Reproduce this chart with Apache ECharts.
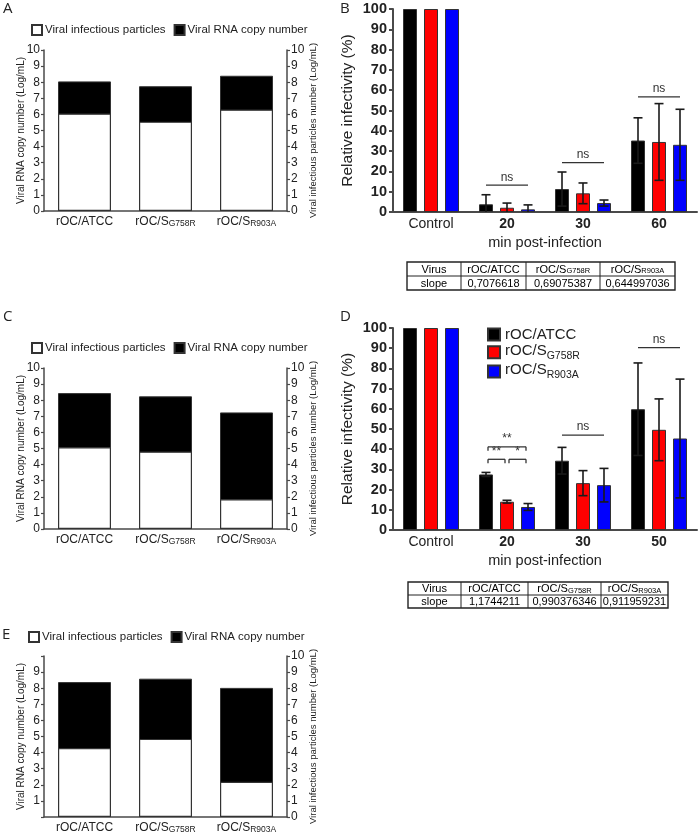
<!DOCTYPE html>
<html><head><meta charset="utf-8">
<script src="https://cdn.jsdelivr.net/npm/echarts@6/dist/echarts.min.js"></script>
<style>html,body{margin:0;padding:0;background:#fff}#c{width:700px;height:834px}</style>
</head><body><div id="c"></div><script>
// ---------- data ----------
const virusCategories = ['rOC/ATCC', 'rOC/SG758R', 'rOC/SR903A'];
const legendNames = ['Viral infectious particles', 'Viral RNA copy number'];
const logTicks = [0, 10, 1];

const panelA_rna = [8.05, 7.75, 8.4];
const panelA_particles = [6.05, 5.55, 6.3];
const panelC_rna = [8.44, 8.24, 7.24];
const panelC_particles = [5.08, 4.81, 1.85];
const panelE_rna = [8.38, 8.59, 8.02];
const panelE_particles = [4.29, 4.85, 2.19];

const B_categories = ['Control', '20', '30', '60'];
const B_atcc = [100, 3.8, 11.3, 35.2];
const B_atcc_sd = [0, 4.7, 8.4, 11.2];
const B_g758r = [100, 2.1, 9.2, 34.5];
const B_g758r_sd = [0, 2.3, 5.1, 18.9];
const B_r903a = [100, 1.3, 4.4, 33.1];
const B_r903a_sd = [0, 2.2, 1.5, 17.5];
// significance: [category index, y value, from series, to series, bracket?]
const B_sig = [[1, 13.2, 0, 2, 0], [2, 24.3, 0, 2, 0], [3, 56.7, 0, 2, 0]];
const B_sigText = ['ns', 'ns', 'ns'];
const B_slopes = ['0,7076618', '0,69075387', '0,644997036'];

const D_categories = ['Control', '20', '30', '50'];
const D_atcc = [100, 27.5, 34.3, 59.8];
const D_atcc_sd = [0, 1.0, 6.6, 22.9];
const D_g758r = [100, 14.0, 23.2, 49.6];
const D_g758r_sd = [0, 0.7, 6.2, 15.3];
const D_r903a = [100, 11.4, 22.2, 45.3];
const D_r903a_sd = [0, 1.7, 8.3, 29.4];
const D_sig = [[1, 41.2, 0, 2, 1], [1, 35.0, 0, 1, 1], [1, 35.0, 1, 2, 1], [2, 47.0, 0, 2, 0], [3, 90.3, 0, 2, 0]];
const D_sigText = ['**', '**', '*', 'ns', 'ns'];
const D_slopes = ['1,1744211', '0,990376346', '0,911959231'];

const pctTicks = [0, 100, 10];
// ---------- styling ----------
const FONT = '"Liberation Sans", Arial, sans-serif';
const AX = '#4a4a4a';
const TXT = '#222';
const BAR_W = 14, BAR_STEP = 21;
const virusColors = ['#000000', '#ff0000', '#0000ff'];

// rich styles: small suffix on the baseline
function virusRich(fs, sfs) {
  const sLH = 0.3 * fs + 0.7 * sfs;
  return {
    n: { fontSize: fs, fontFamily: FONT, color: TXT, lineHeight: fs, verticalAlign: 'bottom' },
    s: { fontSize: sfs, fontFamily: FONT, color: TXT, lineHeight: sLH, verticalAlign: 'bottom' },
    b: { fontSize: fs, fontFamily: FONT, color: TXT, fontWeight: 'bold', lineHeight: fs, verticalAlign: 'bottom' }
  };
}
// rich styles: small suffix lowered (subscript) by drop px
function subRich(fs, sfs, drop) {
  const p = 0.85 * (fs - sfs) + drop;
  return {
    n: { fontSize: fs, fontFamily: FONT, color: TXT, verticalAlign: 'top' },
    s: { fontSize: sfs, fontFamily: FONT, color: TXT, verticalAlign: 'top', padding: [p, 0, 0, 0] }
  };
}
function virusFmt(v) {
  if (v.indexOf('rOC/S') === 0) return '{n|rOC/S}{s|' + v.slice(5) + '}';
  return '{n|' + v + '}';
}

const grids = [
  { left: 44, top: 50, width: 243, height: 161 },   // A
  { left: 393, top: 9, width: 304, height: 203 },   // B
  { left: 44, top: 368, width: 243, height: 161 },  // C
  { left: 393, top: 328, width: 304, height: 202 }, // D
  { left: 44, top: 656, width: 243, height: 163 }   // E
];

function virusXAxis(gi) {
  return {
    type: 'category', gridIndex: gi, data: virusCategories,
    axisLine: { lineStyle: { color: AX, width: 1.5 } }, axisTick: { show: false },
    axisLabel: { interval: 0, margin: 5, formatter: virusFmt, rich: virusRich(12, 8.5) }
  };
}
function timeXAxis(gi, cats) {
  return {
    type: 'category', gridIndex: gi, data: cats,
    axisLine: { lineStyle: { color: AX, width: 2 } }, axisTick: { show: false },
    axisLabel: { interval: 0, margin: 5, formatter: v => v === 'Control' ? '{n|' + v + '}' : '{b|' + v + '}', rich: virusRich(14, 10) },
    name: 'min post-infection', nameLocation: 'middle', nameGap: 23, nameMoveOverlap: false,
    nameTextStyle: { fontSize: 14.5, fontFamily: FONT, color: TXT }
  };
}
function logYAxis(gi, pos, name, hideEnds) {
  return {
    type: 'value', gridIndex: gi, position: pos, min: logTicks[0], max: logTicks[1], interval: logTicks[2],
    splitLine: { show: false },
    axisLine: { show: true, lineStyle: { color: AX, width: 1.5 } },
    axisTick: { show: true, length: 3, lineStyle: { color: AX, width: 1.2 } },
    axisLabel: {
      margin: pos === 'left' ? 4 : 4, fontSize: 12, fontFamily: FONT, color: TXT,
      formatter: v => (hideEnds && (v === 0 || v === 10)) ? '' : String(v)
    },
    name: name, nameLocation: 'middle', nameRotate: 90, nameGap: pos === 'left' ? 18 : 21.5, nameMoveOverlap: false,
    nameTextStyle: { fontSize: pos === 'left' ? 10 : 9.5, fontFamily: FONT, color: TXT }
  };
}
function pctYAxis(gi) {
  return {
    type: 'value', gridIndex: gi, min: pctTicks[0], max: pctTicks[1], interval: pctTicks[2],
    splitLine: { show: false },
    axisLine: { show: true, lineStyle: { color: AX, width: 2 } },
    axisTick: { show: true, length: 4, lineStyle: { color: AX, width: 2 } },
    axisLabel: { margin: 6, fontSize: 14.5, fontWeight: 'bold', fontFamily: FONT, color: TXT },
    name: 'Relative infectivity (%)', nameLocation: 'middle', nameRotate: 90, nameGap: 37, nameMoveOverlap: false,
    nameTextStyle: { fontSize: 15.5, fontFamily: FONT, color: TXT }
  };
}

const xAxis = [virusXAxis(0), timeXAxis(1, B_categories), virusXAxis(2), timeXAxis(3, D_categories), virusXAxis(4)];
const yAxis = [
  logYAxis(0, 'left', 'Viral RNA copy number (Log/mL)', false),
  logYAxis(0, 'right', 'Viral infectious particles number (Log/mL)', false),
  pctYAxis(1),
  logYAxis(2, 'left', 'Viral RNA copy number (Log/mL)', false),
  logYAxis(2, 'right', 'Viral infectious particles number (Log/mL)', false),
  pctYAxis(3),
  logYAxis(4, 'left', 'Viral RNA copy number (Log/mL)', true),
  logYAxis(4, 'right', 'Viral infectious particles number (Log/mL)', false)
];

const series = [];
function stackPanel(xi, yl, yr, rna, particles) {
  series.push({
    type: 'bar', name: legendNames[1], xAxisIndex: xi, yAxisIndex: yl, data: rna,
    barWidth: 53, barGap: '-100%', itemStyle: { color: '#000', borderColor: '#333', borderWidth: 1 }
  });
  series.push({
    type: 'bar', name: legendNames[0], xAxisIndex: xi, yAxisIndex: yr, data: particles,
    barWidth: 53, barGap: '-100%', itemStyle: { color: '#fff', borderColor: '#333', borderWidth: 1.2 }
  });
}
stackPanel(0, 0, 1, panelA_rna, panelA_particles);
stackPanel(2, 3, 4, panelC_rna, panelC_particles);
stackPanel(4, 6, 7, panelE_rna, panelE_particles);

function errRender(params, api) {
  const i = api.value(0), v = api.value(1), sd = api.value(2), k = api.value(3);
  const x = api.coord([i, v])[0] + (k - 1) * BAR_STEP;
  const top = api.coord([i, v + sd])[1];
  const low = v - sd;
  const bot = api.coord([i, Math.max(0, low)])[1];
  const st = { stroke: '#1a1a1a', lineWidth: 1.6 };
  const ch = [
    { type: 'line', shape: { x1: x, y1: top, x2: x, y2: bot }, style: st },
    { type: 'line', shape: { x1: x - 4.5, y1: top, x2: x + 4.5, y2: top }, style: st }
  ];
  if (low > 0) ch.push({ type: 'line', shape: { x1: x - 4.5, y1: bot, x2: x + 4.5, y2: bot }, style: st });
  return { type: 'group', children: ch };
}
function sigRenderFactory(sig, texts) {
  return function (params, api) {
    const s = sig[params.dataIndex];
    const c = api.coord([s[0], s[1]]);
    const ins = s[4] ? 2 : 0;
    const x1 = c[0] + (s[2] - 1) * BAR_STEP + ins;
    const x2 = c[0] + (s[3] - 1) * BAR_STEP - ins;
    const y = c[1];
    const st = { stroke: '#333', lineWidth: 1.3 };
    const ch = [{ type: 'line', shape: { x1: x1, y1: y, x2: x2, y2: y }, style: st }];
    if (s[4]) {
      ch.push({ type: 'line', shape: { x1: x1, y1: y, x2: x1, y2: y + 4 }, style: st });
      ch.push({ type: 'line', shape: { x1: x2, y1: y, x2: x2, y2: y + 4 }, style: st });
    }
    ch.push({ type: 'text', style: { text: texts[params.dataIndex], x: (x1 + x2) / 2, y: y - 2, textAlign: 'center', textVerticalAlign: 'bottom', font: '12px ' + FONT, fill: '#333' } });
    return { type: 'group', children: ch };
  };
}

function infectivityPanel(xi, yi, groups, sig, sigText) {
  const names = virusCategories;
  groups.forEach((g, k) => {
    series.push({
      type: 'bar', name: names[k], xAxisIndex: xi, yAxisIndex: yi, data: g[0],
      barWidth: BAR_W, barGap: '50%', itemStyle: { color: virusColors[k], borderColor: '#333', borderWidth: 1 }
    });
  });
  const errData = [];
  groups.forEach((g, k) => g[0].forEach((v, i) => { if (g[1][i] > 0) errData.push([i, v, g[1][i], k]); }));
  series.push({ type: 'custom', xAxisIndex: xi, yAxisIndex: yi, data: errData, renderItem: errRender, z: 5, silent: true });
  series.push({ type: 'custom', xAxisIndex: xi, yAxisIndex: yi, data: sig.map(s => [s[0], s[1]]), renderItem: sigRenderFactory(sig, sigText), z: 5, silent: true });
}
infectivityPanel(1, 2, [[B_atcc, B_atcc_sd], [B_g758r, B_g758r_sd], [B_r903a, B_r903a_sd]], B_sig, B_sigText);
infectivityPanel(3, 5, [[D_atcc, D_atcc_sd], [D_g758r, D_g758r_sd], [D_r903a, D_r903a_sd]], D_sig, D_sigText);

function stackLegend(left, top) {
  return {
    data: legendNames, left: left, top: top, itemWidth: 10, itemHeight: 10, itemGap: 8, icon: 'rect',
    selectedMode: false, textStyle: { fontSize: 11.5, fontFamily: FONT, color: TXT, padding: [0, 0, 0, -2] }
  };
}
const legend = [
  stackLegend(26, 19), stackLegend(26, 337), stackLegend(23, 626),
  {
    data: virusCategories, left: 482, top: 322, orient: 'vertical', itemWidth: 12, itemHeight: 12, itemGap: 1,
    icon: 'rect', selectedMode: false,
    formatter: virusFmt,
    textStyle: { rich: subRich(15, 10.5, 3.5) }
  }
];

// ---------- tables & panel letters ----------
const graphic = [];
function table(xs, ys, slopes) {
  const st = { stroke: '#222', lineWidth: 1, fill: null };
  graphic.push({ type: 'rect', shape: { x: xs[0], y: ys[0], width: xs[4] - xs[0], height: ys[2] - ys[0] }, style: { stroke: '#222', lineWidth: 1.4, fill: null } });
  graphic.push({ type: 'line', shape: { x1: xs[0], y1: ys[1], x2: xs[4], y2: ys[1] }, style: st });
  for (let i = 1; i < 4; i++) graphic.push({ type: 'line', shape: { x1: xs[i], y1: ys[0], x2: xs[i], y2: ys[2] }, style: st });
  const row0 = ['Virus'].concat(virusCategories), row1 = ['slope'].concat(slopes);
  [row0, row1].forEach((row, r) => row.forEach((t, c) => {
    graphic.push({
      type: 'text', style: {
        text: r === 0 ? virusFmt(t) : '{n|' + t + '}', x: (xs[c] + xs[c + 1]) / 2, y: (ys[r] + ys[r + 1]) / 2 + 0.5,
        textAlign: 'center', textVerticalAlign: 'middle', rich: virusRich(11, 7.5)
      }
    });
  }));
}
table([407, 461, 526, 600, 675], [262, 276, 290], B_slopes);
table([408, 461, 528, 601, 668], [582, 595, 608], D_slopes);
[['A', 3, 9], ['B', 340, 9], ['C', 3, 317], ['D', 340, 317], ['E', 2, 635]].forEach(p => {
  graphic.push({ type: 'text', style: { text: p[0], x: p[1], y: p[2], textVerticalAlign: 'middle', font: '15px "Open Sans", sans-serif', fill: '#222' } });
});

const chart = echarts.init(document.getElementById('c'), null, { renderer: 'canvas' });
chart.setOption({
  animation: false, backgroundColor: '#fff',
  grid: grids, xAxis: xAxis, yAxis: yAxis, series: series, legend: legend, graphic: graphic
});
</script></body></html>
